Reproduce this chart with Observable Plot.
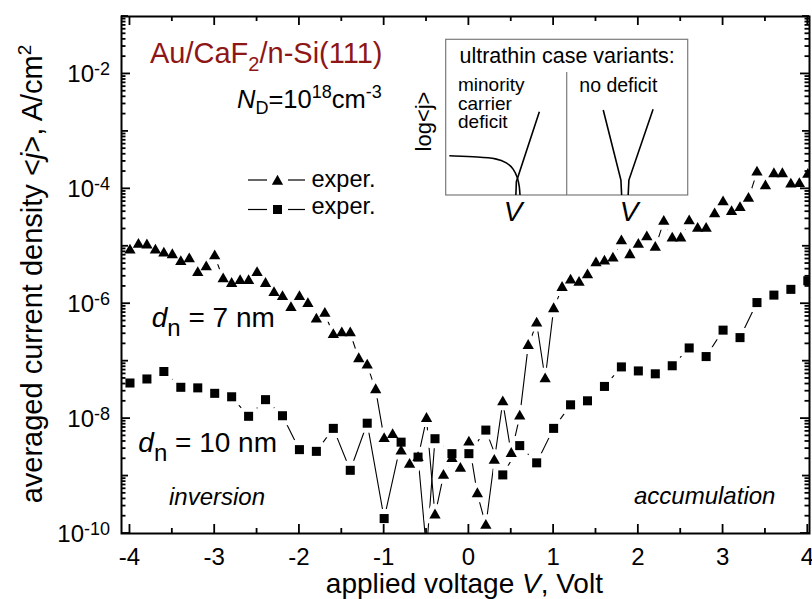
<!DOCTYPE html>
<html><head><meta charset="utf-8">
<script src="https://cdn.jsdelivr.net/npm/d3@7"></script>
<script src="https://cdn.jsdelivr.net/npm/@observablehq/plot@0.6"></script>
<style>body{margin:0;background:#fff}svg{display:block}</style>
</head><body><div id="chart"></div>
<script>
// ---------- data ----------
// d_n = 7 nm (triangles): applied voltage V and log10 of <j> (A/cm^2)
const voltage7nm = [-4.0,-3.9,-3.8,-3.7,-3.6,-3.5,-3.4,-3.3,-3.2,-3.1,-3.0,-2.9,-2.8,-2.7,-2.6,-2.5,-2.4,-2.3,-2.2,-2.1,-2.0,-1.9,-1.8,-1.7,-1.6,-1.5,-1.4,-1.3,-1.2,-1.1,-1.0,-0.9,-0.8,-0.7,-0.6,-0.5,-0.4,-0.3,-0.2,-0.1,0.0,0.1,0.2,0.3,0.4,0.5,0.6,0.7,0.8,0.9,1.0,1.1,1.2,1.3,1.4,1.5,1.6,1.7,1.8,1.9,2.0,2.1,2.2,2.3,2.4,2.5,2.6,2.7,2.8,2.9,3.0,3.1,3.2,3.3,3.4,3.5,3.6,3.7,3.8,3.9,4.0];
const log10J7nm = [-5.07,-4.97,-4.98,-5.07,-5.12,-5.15,-5.27,-5.22,-5.46,-5.36,-5.17,-5.57,-5.65,-5.60,-5.60,-5.46,-5.65,-5.81,-5.88,-6.07,-5.88,-6.00,-6.27,-6.17,-6.54,-6.51,-6.51,-6.96,-7.07,-7.50,-8.35,-8.28,-8.57,-8.80,-8.68,-8.00,-9.68,-8.99,-8.70,-8.87,-8.41,-9.31,-9.86,-8.73,-7.71,-8.61,-7.96,-6.73,-6.34,-7.31,-6.09,-5.72,-5.59,-5.63,-5.50,-5.29,-5.26,-5.21,-4.91,-5.15,-4.97,-4.84,-5.02,-4.57,-4.86,-4.86,-4.56,-4.69,-4.69,-4.44,-4.23,-4.40,-4.33,-4.17,-3.71,-3.95,-3.74,-3.74,-3.92,-3.91,-3.75];
// d_n = 10 nm (squares)
const voltage10nm = [-4.0,-3.8,-3.6,-3.4,-3.2,-3.0,-2.8,-2.6,-2.4,-2.2,-2.0,-1.8,-1.6,-1.4,-1.2,-1.0,-0.8,-0.6,-0.5,-0.4,-0.2,0.0,0.2,0.4,0.6,0.8,1.0,1.2,1.4,1.6,1.8,2.0,2.2,2.4,2.6,2.8,3.0,3.2,3.4,3.6,3.8,4.0];
const log10J10nm = [-7.38,-7.31,-7.18,-7.455,-7.465,-7.56,-7.62,-7.96,-7.67,-7.95,-8.54,-8.57,-8.17,-8.90,-8.08,-9.74,-8.41,-8.67,-10.3,-8.35,-8.61,-8.61,-8.20,-8.98,-8.47,-8.77,-8.17,-7.76,-7.69,-7.44,-7.10,-7.17,-7.22,-7.08,-6.77,-6.92,-6.46,-6.59,-5.98,-5.85,-5.75,-5.60];

// axes
const xMajorTicks = [-4,-3,-2,-1,0,1,2,3,4];
const xMinorTicks = [-3.5,-2.5,-1.5,-0.5,0.5,1.5,2.5,3.5];
const yLabelExponents = [-10,-8,-6,-4,-2];
const yDecadeExponents = [-10,-9,-8,-7,-6,-5,-4,-3,-2,-1];
const yMinorMultipliers = [2,3,4,5,6,7,8,9];
const xTickLabels = ["-4","-3","-2","-1","0","1","2","3","4"];

// text
const sampleTitle = ["Au/CaF", "2", "/n-Si(111)"];
const legendLabels = ["exper.", "exper."];
const seriesLabels = [["d", "n", " = 7 nm"], ["d", "n", " = 10 nm"]];
const regionLabels = ["inversion", "accumulation"];
const insetTexts = {title: "ultrathin case variants:", left: ["minority", "carrier", "deficit"], right: "no deficit", ylab: "log<j>", xlab: "V"};

const FONT = "'Liberation Sans', Arial, Helvetica, sans-serif";
const RED = "#8e1616";

const tri = voltage7nm.map((v, i) => ({V: v, j: Math.pow(10, log10J7nm[i])}));
const sq = voltage10nm.map((v, i) => ({V: v, j: Math.pow(10, log10J10nm[i])}));

const rTri = 4.2, rSq = 5.1, gap = 10;

const plot = Plot.plot({
  width: 812, height: 599,
  marginLeft: 121, marginRight: 3, marginTop: 16, marginBottom: 66,
  x: {domain: [-4.1, 4.02], axis: null},
  y: {type: "log", domain: [1e-10, 1e-1], axis: null},
  style: {fontFamily: FONT, background: "white", color: "black"},
  marks: [
    Plot.line(tri, {x: "V", y: "j", stroke: "black", strokeWidth: 1.1, clip: true}),
    Plot.line(sq, {x: "V", y: "j", stroke: "black", strokeWidth: 1.1, clip: true}),
    Plot.dot(tri, {x: "V", y: "j", symbol: "triangle", r: rTri, fill: "white", stroke: "white", strokeWidth: gap, strokeLinejoin: "round", clip: true}),
    Plot.dot(sq, {x: "V", y: "j", symbol: "square", r: rSq, fill: "white", stroke: "white", strokeWidth: gap, strokeLinejoin: "round", clip: true}),
    Plot.dot(tri, {x: "V", y: "j", symbol: "triangle", r: rTri, fill: "black", stroke: "none", clip: true}),
    Plot.dot(sq, {x: "V", y: "j", symbol: "square", r: rSq, fill: "black", stroke: "none", clip: true}),
    Plot.frame({stroke: "black", strokeWidth: 2})
  ]
});
document.getElementById("chart").appendChild(plot);

const sx = plot.scale("x"), sy = plot.scale("y");
const X = v => sx.apply(v), Y = v => sy.apply(v);
const [xL, xR] = sx.range;
const [yB, yT] = sy.range;
const svg = d3.select(plot);

// ticks (inward, all four sides)
const tg = svg.append("g").attr("stroke", "black").attr("stroke-width", 1.8).attr("fill", "none");
function vt(x, len) {
  tg.append("line").attr("x1", x).attr("x2", x).attr("y1", yB).attr("y2", yB - len);
  tg.append("line").attr("x1", x).attr("x2", x).attr("y1", yT).attr("y2", yT + len);
}
function ht(y, len) {
  tg.append("line").attr("y1", y).attr("y2", y).attr("x1", xL).attr("x2", xL + len);
  tg.append("line").attr("y1", y).attr("y2", y).attr("x1", xR).attr("x2", xR - len);
}
xMajorTicks.forEach(t => vt(X(t), 9));
xMinorTicks.forEach(t => vt(X(t), 5));
yDecadeExponents.forEach(e => {
  ht(Y(Math.pow(10, e)), yLabelExponents.includes(e) ? 9 : 7);
  yMinorMultipliers.forEach(k => { const v = k * Math.pow(10, e); if (v < 1e-1) ht(Y(v), 4.5); });
});

// inset schematic box (drawn before the texts)
const inset = {x: 445.7, y: 39.3, w: 242, h: 155.7};
const ix = u => inset.x + u * inset.w, iy = v => inset.y + v * inset.h;
const ig = svg.append("g");
ig.append("rect").attr("x", inset.x).attr("y", inset.y).attr("width", inset.w).attr("height", inset.h)
  .attr("fill", "white").attr("stroke", "#7a7a7a").attr("stroke-width", 1.2);
ig.append("line").attr("x1", ix(0.5)).attr("x2", ix(0.5)).attr("y1", iy(0.21)).attr("y2", iy(1)).attr("stroke", "#7a7a7a").attr("stroke-width", 1.2);
const deficitLeft = [[0.015,0.748],[0.14,0.756],[0.21,0.765],[0.253,0.792],[0.28,0.83],[0.298,0.89],[0.305,0.95],[0.307,1.0]];
const deficitRight = [[0.29,1.0],[0.292,0.915],[0.387,0.465]];
const noDefLeft = [[0.651,0.454],[0.724,0.904],[0.727,1.0]];
const noDefRight = [[0.754,1.0],[0.757,0.904],[0.857,0.45]];
const lnStraight = d3.line().x(d => ix(d[0])).y(d => iy(d[1]));
ig.append("path").attr("d", d3.line().x(d => ix(d[0])).y(d => iy(d[1])).curve(d3.curveBasis)(deficitLeft)).attr("fill", "none").attr("stroke", "black").attr("stroke-width", 1.6);
[deficitRight, noDefLeft, noDefRight].forEach(p => ig.append("path").attr("d", lnStraight(p)).attr("fill", "none").attr("stroke", "black").attr("stroke-width", 1.6));

const txt = svg.append("g").attr("font-family", FONT).attr("fill", "black");
function rich(x, y, parts, o = {}) {
  const t = txt.append("text").attr("x", x).attr("y", y)
    .attr("font-size", o.size || 24).attr("text-anchor", o.anchor || "start");
  if (o.fill) t.attr("fill", o.fill);
  if (o.transform) t.attr("transform", o.transform);
  let cur = 0;
  for (const p of parts) {
    const ts = t.append("tspan").text(p.t);
    const sh = p.shift || 0;
    if (sh !== cur) ts.attr("dy", sh - cur);
    cur = sh;
    if (p.size) ts.attr("font-size", p.size);
    if (p.italic) ts.attr("font-style", "italic");
  }
  return t;
}

// tick labels
yLabelExponents.forEach(e => {
  rich(110, Y(Math.pow(10, e)) + 9, [{t: "10"}, {t: String(e), size: 18, shift: -7}], {anchor: "end"});
});
xMajorTicks.forEach((t, i) => {
  rich(X(t), 565, [{t: xTickLabels[i]}], {anchor: "middle"});
});

// axis titles
rich(X(0) - 4, 593, [{t: "applied voltage "}, {t: "V", italic: true}, {t: ", Volt"}], {size: 28, anchor: "middle"});
rich(0, 0, [{t: "averaged current density <"}, {t: "j", italic: true}, {t: ">, A/cm"}, {t: "2", size: 19, shift: -11}],
  {size: 29, anchor: "middle", transform: "translate(42,274) rotate(-90)"});

// sample annotations
rich(150, 63, [{t: sampleTitle[0]}, {t: sampleTitle[1], size: 20, shift: 8}, {t: sampleTitle[2]}], {size: 29, fill: RED});
rich(237, 108, [{t: "N", italic: true}, {t: "D", size: 18, shift: 6}, {t: "=10"}, {t: "18", size: 18, shift: -10}, {t: "cm"}, {t: "-3", size: 18, shift: -10}], {size: 25.5});

// legend
const lg = svg.append("g");
[[180, d3.symbolTriangle, rTri, 186.7], [209.5, d3.symbolSquare, rSq, 213.5]].forEach(([y, sym, r, by], i) => {
  lg.append("line").attr("x1", 248).attr("x2", 267).attr("y1", y).attr("y2", y).attr("stroke", "black").attr("stroke-width", 1.2);
  lg.append("line").attr("x1", 288).attr("x2", 305).attr("y1", y).attr("y2", y).attr("stroke", "black").attr("stroke-width", 1.2);
  lg.append("path").attr("d", d3.symbol(sym, Math.PI * r * r)()).attr("transform", `translate(277.5,${y + (i === 0 ? 1.4 : 0)})`).attr("fill", "black");
  rich(311.5, by, [{t: legendLabels[i]}], {size: 23.5});
});

// thickness labels
rich(151.7, 327, [{t: seriesLabels[0][0], italic: true}, {t: seriesLabels[0][1], size: 24, shift: 9}, {t: seriesLabels[0][2]}], {size: 28});
rich(138.3, 452, [{t: seriesLabels[1][0], italic: true}, {t: seriesLabels[1][1], size: 24, shift: 9}, {t: seriesLabels[1][2]}], {size: 28});
rich(169, 505, [{t: regionLabels[0], italic: true}], {size: 24});
rich(634, 504, [{t: regionLabels[1], italic: true}], {size: 24});

// inset texts
rich(459.5, 62.5, [{t: insetTexts.title}], {size: 21.5});
insetTexts.left.forEach((s, i) => rich(458, [90.5, 109.5, 128][i], [{t: s}], {size: 19}));
rich(579.3, 91.5, [{t: insetTexts.right}], {size: 19.5});
rich(0, 0, [{t: insetTexts.ylab}], {size: 22, anchor: "middle", transform: "translate(430.5,121.5) rotate(-90)"});
rich(513, 221, [{t: insetTexts.xlab, italic: true}], {size: 28, anchor: "middle"});
rich(629, 221, [{t: insetTexts.xlab, italic: true}], {size: 28, anchor: "middle"});
</script>
</body></html>
